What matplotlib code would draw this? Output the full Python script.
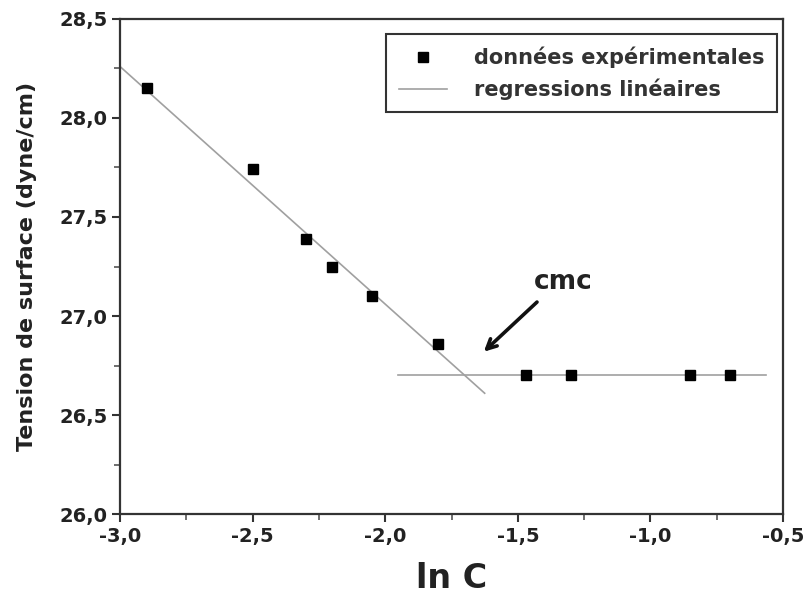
import numpy as np
import matplotlib.pyplot as plt
from matplotlib.ticker import MultipleLocator, FuncFormatter

# experimental points (ln C, surface tension)
ln_c = [-2.9, -2.5, -2.3, -2.2, -2.05, -1.8, -1.47, -1.3, -0.85, -0.7]
tension = [28.15, 27.74, 27.39, 27.25, 27.10, 26.86, 26.70, 26.70, 26.70, 26.70]

# linear regressions: (x start, x end, intercept at x=0, slope)
fit1_x = [-3.0, -1.625]
fit1_coef = [24.66, -1.2]
fit2_x = [-1.95, -0.565]
fit2_coef = [26.70, 0.0]

plt.rcParams['font.family'] = ['DejaVu Sans']
plt.rcParams['font.weight'] = 'bold'

fig = plt.figure(figsize=(8.07, 5.95), dpi=100)
ax = fig.add_axes([0.1487, 0.1361, 0.8216, 0.832])

line_col = '#a0a0a0'
x1 = np.array(fit1_x)
ax.plot(x1, fit1_coef[0] + fit1_coef[1] * x1, color=line_col, lw=1.2,
        label='regressions linéaires', zorder=2)
x2 = np.array(fit2_x)
ax.plot(x2, fit2_coef[0] + fit2_coef[1] * x2, color=line_col, lw=1.2, zorder=2)
ax.plot(ln_c, tension, 's', color='black', ms=7.5, ls='none',
        label='données expérimentales', zorder=3)

ax.annotate('', xy=(-1.636, 26.81), xytext=(-1.42, 27.08),
            arrowprops=dict(arrowstyle='->,head_length=0.7,head_width=0.35',
                            color='#111111', lw=2.6))
ax.text(-1.33, 27.17, 'cmc', fontsize=19, fontweight='bold',
        ha='center', va='center', color='#222222')

ax.set_xlim(-3.0, -0.5)
ax.set_ylim(26.0, 28.5)
ax.xaxis.set_major_locator(MultipleLocator(0.5))
ax.xaxis.set_minor_locator(MultipleLocator(0.25))
ax.yaxis.set_major_locator(MultipleLocator(0.5))
ax.yaxis.set_minor_locator(MultipleLocator(0.25))
fmt = FuncFormatter(lambda v, p: f"{v:.1f}".replace('.', ','))
ax.xaxis.set_major_formatter(fmt)
ax.yaxis.set_major_formatter(fmt)

ax.tick_params(which='major', direction='out', length=6, width=1.5,
               color='#333333', labelsize=14, labelcolor='#222222')
ax.tick_params(which='minor', direction='out', length=4, width=1.2,
               color='#555555')
ax.tick_params(axis='x', pad=3)
ax.tick_params(axis='y', pad=3)
for s in ax.spines.values():
    s.set_linewidth(1.6)
    s.set_color('#333333')

ax.set_xlabel('ln C', fontsize=24, fontweight='bold', color='#222222', labelpad=12)
ax.set_ylabel('Tension de surface (dyne/cm)', fontsize=16, fontweight='bold',
              color='#222222', labelpad=16)

handles, labels = ax.get_legend_handles_labels()
leg = ax.legend(handles[::-1], labels[::-1], loc='upper right',
                bbox_to_anchor=(0.997, 0.978), fontsize=15, numpoints=1,
                handlelength=2.3, handletextpad=1.3, borderpad=0.6,
                labelspacing=0.5, borderaxespad=0.2, fancybox=False,
                framealpha=1)
leg.get_frame().set_edgecolor('#333333')
leg.get_frame().set_linewidth(1.5)
for t in leg.get_texts():
    t.set_color('#333333')

fig.savefig('out.png', dpi=100)
